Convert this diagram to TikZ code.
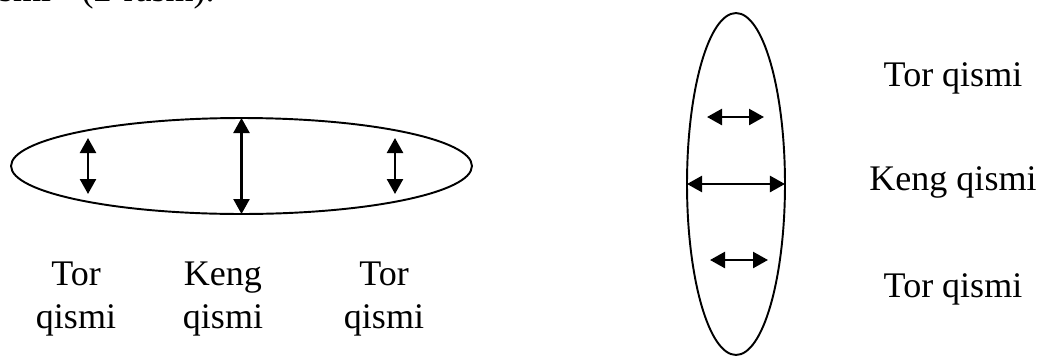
\documentclass[tikz,border=0pt]{standalone}
\usepackage{fontspec}
\setmainfont{Liberation Serif}
\usetikzlibrary{arrows.meta,positioning,shapes.geometric}
\tikzset{
  partshape/.style={ellipse, draw=black, line width=1.1pt, inner sep=0pt, outer sep=0pt},
  partarrow/.style={{Triangle[length=0.3cm,width=0.32cm]}-{Triangle[length=0.3cm,width=0.32cm]}, line width=1.4pt},
  partlabel/.style={align=center, inner sep=0pt, font=\fontsize{20.5pt}{24pt}\selectfont}
}
\begin{document}
\begin{tikzpicture}[x=0.02cm, y=-0.02cm]
\useasboundingbox (0,0) rectangle (1042,356);
\clip (0,0) rectangle (1042,356);
% line cut off from the text above
\node[partlabel, anchor=base east] (prevline) at (215,1) {qismi\hspace{0.85em}(2-rasm).};
% horizontal section
\node[partshape, minimum width=9.22cm, minimum height=1.92cm] (hell) at (241.5,166) {};
\coordinate (hl1) at (88,138);  \coordinate (hl2) at (88,194);
\coordinate (hr1) at (395,138); \coordinate (hr2) at (395,194);
\draw[partarrow] (hl1) -- (hl2);
\draw[partarrow] (hell.north) -- (hell.south);
\draw[partarrow] (hr1) -- (hr2);
\node[partlabel, anchor=north] (htor1) at (76,262) {Tor\\qismi};
\node[partlabel, anchor=north] (hkeng) at (223,262) {Keng\\qismi};
\node[partlabel, anchor=north] (htor2) at (384,262) {Tor\\qismi};
% vertical section
\node[partshape, minimum width=1.96cm, minimum height=6.84cm] (vell) at (736,184) {};
\coordinate (vt1) at (707,117); \coordinate (vt2) at (764,117);
\coordinate (vb1) at (710,260); \coordinate (vb2) at (768,260);
\draw[partarrow] (vt1) -- (vt2);
\draw[partarrow] (vell.west) -- (vell.east);
\draw[partarrow] (vb1) -- (vb2);
\node[partlabel, anchor=base] (vtor1) at (953,86) {Tor qismi};
\node[partlabel, anchor=base] (vkeng) at (953,190) {Keng qismi};
\node[partlabel, anchor=base] (vtor2) at (953,297) {Tor qismi};
\end{tikzpicture}
\end{document}
